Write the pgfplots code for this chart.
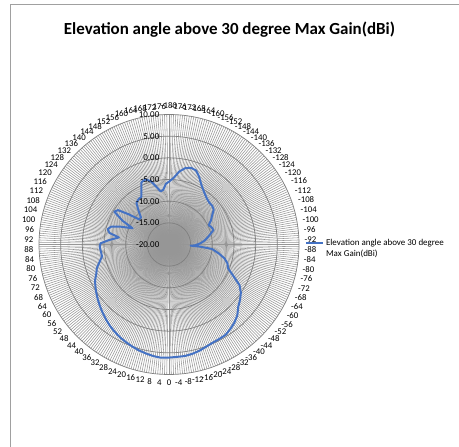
\documentclass[border=0pt]{standalone}
\usepackage{pgfplots}
\pgfplotsset{compat=1.18}
\usepackage{pgfplotstable}
\usepackage{fontspec}
\setmainfont{Carlito}
\definecolor{serblue}{HTML}{4472C4}
\definecolor{gridc}{HTML}{969696}
\definecolor{ringc}{HTML}{808080}
\definecolor{framec}{HTML}{A0A0A0}

\pgfplotstableread{
c v
-180 -5.5
-176 -4.6
-172 -3.0
-168 -2.0
-164 -1.6
-160 -1.8
-156 -2.9
-152 -4.2
-148 -5.1
-144 -5.8
-140 -6.3
-136 -6.6
-132 -6.6
-128 -6.9
-124 -8.0
-120 -8.8
-116 -9.8
-112 -9.4
-108 -9.2
-104 -10.2
-100 -11.0
-96 -11.8
-92 -12.8
-88 -14.0
-87 -15.0
-86 -12.8
-84 -10.0
-80 -8.4
-76 -6.8
-72 -5.8
-68 -5.3
-64 -3.5
-60 -1.2
-56 0.0
-52 0.8
-48 1.5
-44 2.7
-40 3.5
-36 4.1
-32 4.6
-28 4.7
-24 4.8
-20 5.1
-16 5.5
-12 5.8
-8 6.0
-4 6.0
0 6.1
4 6.2
8 6.0
12 5.7
16 5.4
20 5.0
24 4.6
28 4.2
32 3.7
36 3.2
40 2.6
44 2.0
48 1.4
52 0.8
56 0.2
60 -0.4
64 -1.0
68 -1.9
72 -2.5
76 -3.5
80 -4.3
84 -4.2
88 -4.0
91 -4.2
94 -6.0
98 -8.3
101 -6.0
104 -5.4
107 -6.0
110 -7.9
114 -10.8
117 -8.0
121 -5.3
124 -5.8
127 -8.5
130 -11.0
134 -11.0
138 -9.5
142 -7.8
146 -7.4
150 -7.3
153 -6.0
156 -4.3
160 -4.0
164 -4.8
168 -6.5
171 -7.6
174 -7.3
177 -6.0
180 -5.5
}\gaintable

\begin{document}
\begin{tikzpicture}[x=1bp,y=1bp]
\path[use as bounding box] (0,0) rectangle (459,447);
\draw[framec, line width=1bp] (10,0) -- (10,442) -- (459,442);
\node[font=\bfseries\fontsize{17}{19}\selectfont] at (229.5,417) {Elevation angle above 30 degree Max Gain(dBi)};
\begin{scope}[shift={(169,202.5)}]
  \foreach \a in {0,...,359} \draw[gridc, line width=0.55bp] (0,0) -- (\a:130);
  \foreach \r in {21.667,43.333,65,86.667,108.333,130} \draw[ringc, line width=0.7bp] (0,0) circle (\r);
\end{scope}
\begin{axis}[at={(169bp,202.5bp)}, anchor=origin, x=4.33333bp, y=4.33333bp,
  xmin=-30, xmax=30, ymin=-30, ymax=30, hide axis, clip=false,
  legend style={at={(axis cs:31.4,1.7)}, anchor=north west, draw=none, fill=none,
    inner sep=0pt, outer sep=0pt, font=\fontsize{9}{11}\selectfont},
  legend cell align=left,
  legend image code/.code={\draw[#1] (0bp,0bp) -- (17bp,0bp);}]
\addplot[serblue, line width=2bp, line join=round]
  table[x expr={-(\thisrow{v}+20)*sin(\thisrow{c})},
        y expr={-(\thisrow{v}+20)*cos(\thisrow{c})}] {\gaintable};
\addlegendentry{\parbox[t]{132bp}{\raggedright Elevation angle above 30 degree\\Max Gain(dBi)}}
\end{axis}
\begin{scope}[shift={(169,202.5)}]
  \foreach \c in {-180,-176,...,176} {
    \pgfmathtruncatemacro\t{-90-\c}
    \pgfmathtruncatemacro\an{mod(\t+180+720,360)}
    \node[font=\fontsize{8.8}{9}\selectfont, inner sep=1.5bp, anchor=\an] at (\t:134) {\c};
  }
  \foreach \v/\r in {10.00/130,5.00/108.333,0.00/86.667,-5.00/65,-10.00/43.333,-15.00/21.667,-20.00/0}
    \node[font=\fontsize{9}{9}\selectfont, inner sep=0pt, anchor=east] at (-9.5,\r) {\v};
\end{scope}
\end{tikzpicture}
\end{document}
